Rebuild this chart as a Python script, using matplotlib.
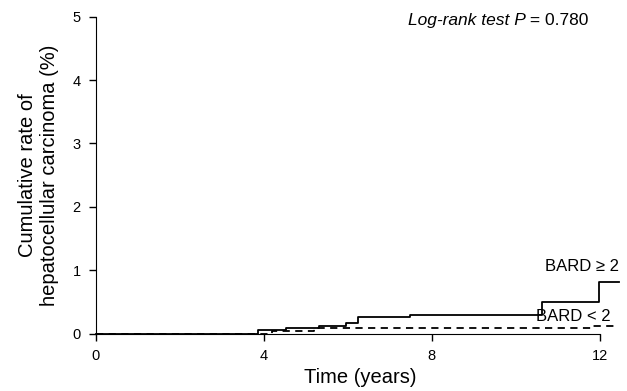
import numpy as np
import matplotlib
matplotlib.use("Agg")
import matplotlib.pyplot as plt

# step curves (time in years, cumulative rate in %)
t_high = [0, 3.87, 4.53, 5.32, 5.96, 6.24, 7.47, 10.61, 11.98, 12.45]
r_high = [0, 0.055, 0.08, 0.12, 0.17, 0.265, 0.30, 0.50, 0.81, 0.81]
t_low = [0, 4.2, 5.2, 6.0, 11.8, 12.35]
r_low = [0, 0.04, 0.08, 0.09, 0.12, 0.12]

xticks = [0, 4, 8, 12]
yticks = [0, 1, 2, 3, 4, 5]

plt.rc('font', family='Liberation Sans')
fig = plt.figure(figsize=(6.27, 3.91), dpi=100)
ax = fig.add_axes([0.153, 0.147, 0.844, 0.81])

ax.step(t_high, r_high, where='post', color='black', lw=1.3, clip_on=False)
ax.step(t_low, r_low, where='post', color='black', lw=1.3, ls=(0, (4, 3)), clip_on=False)

ax.set_xlim(0, 12.6)
ax.set_ylim(0, 5)
ax.set_xticks(xticks)
ax.set_yticks(yticks)
for s in ['top', 'right']:
    ax.spines[s].set_visible(False)
ax.spines['bottom'].set_bounds(0, 12)
ax.spines['left'].set_bounds(0, 5)
ax.tick_params(direction='out', length=5, width=1, labelsize=10.5, pad=6)

ax.set_xlabel('Time (years)', fontsize=14.5, labelpad=4)
ax.set_ylabel('Cumulative rate of\nhepatocellular carcinoma (%)', fontsize=14.5, labelpad=10)

t = ax.text(7.42, 4.94, 'Log-rank test P', fontsize=12.5, style='italic', va='center')
ax.annotate(' = 0.780', xy=(1, 0.5), xycoords=t, va='center', fontsize=12.5)

ax.text(10.7, 1.06, 'BARD \u2265 2', fontsize=12, va='center')
ax.text(10.47, 0.27, 'BARD < 2', fontsize=12, va='center')

fig.savefig('out.png', dpi=100)
